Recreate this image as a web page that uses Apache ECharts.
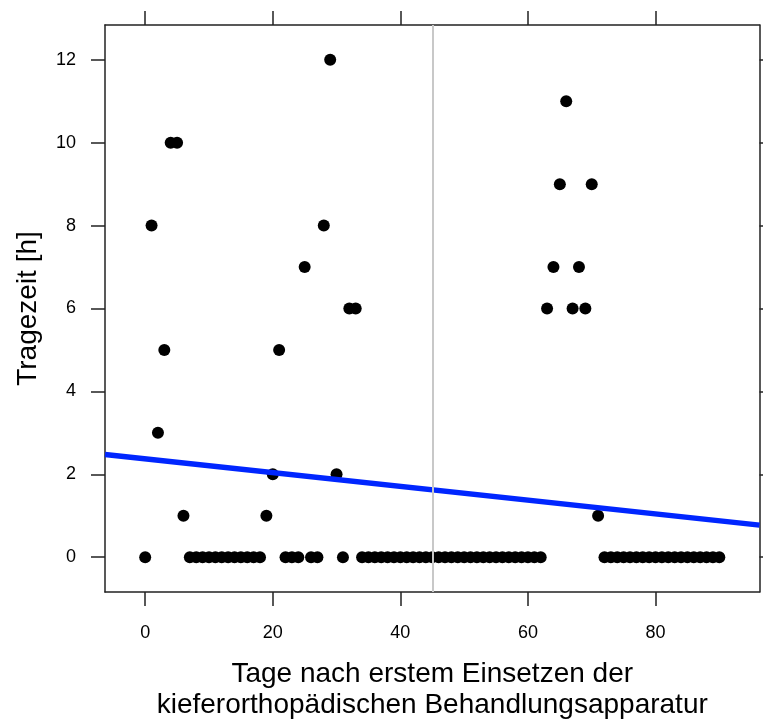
<!DOCTYPE html>
<html>
<head>
<meta charset="utf-8">
<style>
  html, body { margin: 0; padding: 0; background: #fff; }
  #chart { width: 763px; height: 720px; }
</style>
<script src="https://cdn.jsdelivr.net/npm/echarts@6/dist/echarts.min.js"></script>
</head>
<body>
<div id="chart"></div>
<script>
// Tage seit dem Einsetzen der Apparatur
const days = [
  0, 1, 2, 3, 4, 5, 6, 7, 8, 9, 10, 11, 12, 13, 14, 15, 16, 17, 18, 19,
  20, 21, 22, 23, 24, 25, 26, 27, 28, 29, 30, 31, 32, 33, 34, 35, 36, 37, 38, 39,
  40, 41, 42, 43, 44, 45, 46, 47, 48, 49, 50, 51, 52, 53, 54, 55, 56, 57, 58, 59,
  60, 61, 62, 63, 64, 65, 66, 67, 68, 69, 70, 71, 72, 73, 74, 75, 76, 77, 78, 79,
  80, 81, 82, 83, 84, 85, 86, 87, 88, 89, 90
];
// Tägliche Tragezeit in Stunden
const wearHours = [
  0, 8, 3, 5, 10, 10, 1, 0, 0, 0, 0, 0, 0, 0, 0, 0, 0, 0, 0, 1,
  2, 5, 0, 0, 0, 7, 0, 0, 8, 12, 2, 0, 6, 6, 0, 0, 0, 0, 0, 0,
  0, 0, 0, 0, 0, 0, 0, 0, 0, 0, 0, 0, 0, 0, 0, 0, 0, 0, 0, 0,
  0, 0, 0, 6, 7, 9, 11, 6, 7, 6, 9, 1, 0, 0, 0, 0, 0, 0, 0, 0,
  0, 0, 0, 0, 0, 0, 0, 0, 0, 0, 0
];
// Achsenbeschriftungen
const xTicks = [0, 20, 40, 60, 80];
const yTicks = [0, 2, 4, 6, 8, 10, 12];
// Referenztag (senkrechte Linie)
const markerDay = 45;

// Panelbereich: Datenbereich um 7 % erweitert
const xMin = -6.3, xMax = 96.3;
const yMin = -0.84, yMax = 12.84;

// Regressionsgerade nach kleinsten Quadraten
const n = days.length;
const mx = days.reduce((a, b) => a + b, 0) / n;
const my = wearHours.reduce((a, b) => a + b, 0) / n;
let sxy = 0, sxx = 0;
for (let i = 0; i < n; i++) {
  sxy += (days[i] - mx) * (wearHours[i] - my);
  sxx += (days[i] - mx) * (days[i] - mx);
}
const slope = sxy / sxx;
const intercept = my - slope * mx;
const fitLine = [[xMin, intercept + slope * xMin], [xMax, intercept + slope * xMax]];

const FONT = '"Liberation Sans", Arial, sans-serif';
const AX = '#222';

const tickStyle = { show: true, inside: false, length: 14, lineStyle: { color: AX, width: 1.5 } };

const chart = echarts.init(document.getElementById('chart'), null, { renderer: 'canvas' });
chart.setOption({
  backgroundColor: '#fff',
  animation: false,
  textStyle: { fontFamily: FONT },
  grid: { left: 105, right: 3.5, top: 25, bottom: 128, containLabel: false, outerBoundsMode: 'none' },
  xAxis: [
    {
      type: 'value', position: 'bottom', min: xMin, max: xMax,
      axisLine: { show: true, onZero: false, lineStyle: { color: AX, width: 1.5 } },
      axisTick: Object.assign({}, tickStyle, { customValues: xTicks }),
      axisLabel: { customValues: xTicks, margin: 32, fontSize: 18, color: '#000', fontFamily: FONT },
      splitLine: { show: false },
      name: 'Tage nach erstem Einsetzen der\nkieferorthopädischen Behandlungsapparatur',
      nameLocation: 'middle', nameGap: 67,
      nameTextStyle: { fontSize: 28, color: '#000', lineHeight: 31, fontFamily: FONT }
    },
    {
      type: 'value', position: 'top', min: xMin, max: xMax,
      axisLine: { show: true, onZero: false, lineStyle: { color: AX, width: 1.5 } },
      axisTick: Object.assign({}, tickStyle, { customValues: xTicks }),
      axisLabel: { show: false },
      splitLine: { show: false }
    }
  ],
  yAxis: [
    {
      type: 'value', position: 'left', min: yMin, max: yMax,
      axisLine: { show: true, onZero: false, lineStyle: { color: AX, width: 1.5 } },
      axisTick: Object.assign({}, tickStyle, { customValues: yTicks }),
      axisLabel: { customValues: yTicks, margin: 29, fontSize: 18, color: '#000', fontFamily: FONT },
      splitLine: { show: false },
      name: 'Tragezeit [h]',
      nameLocation: 'middle', nameGap: 63,
      nameTextStyle: { fontSize: 28, color: '#000', fontFamily: FONT }
    },
    {
      type: 'value', position: 'right', min: yMin, max: yMax,
      axisLine: { show: true, onZero: false, lineStyle: { color: AX, width: 1.5 } },
      axisTick: Object.assign({}, tickStyle, { customValues: yTicks }),
      axisLabel: { show: false },
      splitLine: { show: false }
    }
  ],
  series: [
    {
      type: 'scatter',
      data: days.map((d, i) => [d, wearHours[i]]),
      symbol: 'circle', symbolSize: 12,
      itemStyle: { color: '#000', opacity: 1 },
      z: 2
    },
    {
      type: 'line',
      data: fitLine,
      showSymbol: false,
      lineStyle: { color: '#0026ff', width: 5.5 },
      z: 3
    },
    {
      type: 'line',
      data: [],
      z: 4,
      markLine: {
        silent: true, symbol: 'none', label: { show: false },
        lineStyle: { color: '#c8c8c8', width: 2, type: 'solid' },
        data: [{ xAxis: markerDay }]
      }
    }
  ]
});
</script>
</body>
</html>
